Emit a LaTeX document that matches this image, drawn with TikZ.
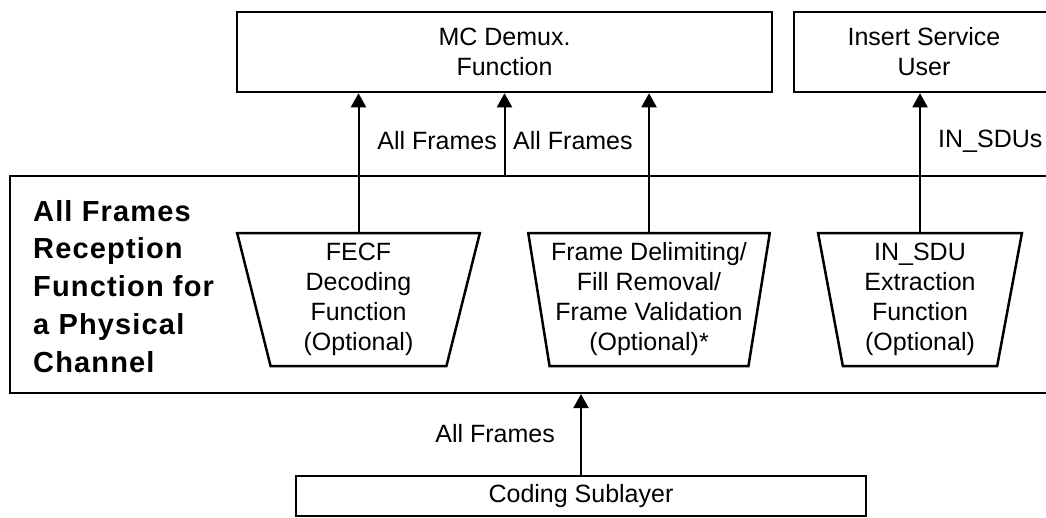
\documentclass[tikz,border=0pt]{standalone}
\usepackage{fontspec}
\setmainfont{Liberation Sans}
\usetikzlibrary{shapes.geometric,arrows.meta}
\newcommand\lblfont{\fontsize{25}{30}\selectfont}
\newcommand\hdfont{\fontsize{29}{37.7}\selectfont\bfseries\addfontfeatures{LetterSpace=4}}
\begin{document}
\begin{tikzpicture}[x=1pt,y=-1pt,
  every node/.style={font=\lblfont,inner sep=0pt},
  fbox/.style={draw,line width=2.5pt,rectangle,align=center},
  trap/.style={draw,line width=2.5pt,trapezium,trapezium stretches=true,
    shape border rotate=180,align=center,minimum height=133pt},
  arr/.style={line width=2pt,-{Triangle[length=14pt,width=15pt]}}]
  \useasboundingbox (0,0) rectangle (1046,517);
  \clip (0,0) rectangle (1046,517);
  % upper boxes
  \node[fbox,minimum width=535pt,minimum height=80pt] (mcd) at (504.5,52) {MC Demux.\\Function};
  \node[fbox,minimum width=260pt,minimum height=80pt] (isu) at (924,52) {Insert Service\\User};
  % all frames reception function
  \node[draw,line width=2pt,minimum width=1050pt,minimum height=217pt] (afr) at (535,284.5) {};
  \node[font=\hdfont,align=left,anchor=north west] (afrlbl) at (33,200) {All Frames\\Reception\\Function for\\a Physical\\Channel};
  \node[trap,trapezium angle=79.5,minimum width=243pt] (fecf) at (358.5,299.5) {FECF\\Decoding\\Function\\(Optional)};
  \node[trap,trapezium angle=79.5,minimum width=242pt] (fdl) at (649,299.5) {Frame Delimiting/\\Fill Removal/\\Frame Validation\\(Optional)*};
  \node[trap,trapezium angle=81,minimum width=204pt] (insu) at (920,299.5) {IN\_SDU\\Extraction\\Function\\(Optional)};
  % coding sublayer
  \node[fbox,minimum width=570pt,minimum height=40pt] (cs) at (581,496) {Coding Sublayer};
  % arrows
  \draw[arr] (fecf.north) -- (fecf.north |- mcd.south);
  \draw[arr] (afr.north -| mcd.south) -- (mcd.south);
  \draw[arr] (fdl.north) -- (fdl.north |- mcd.south);
  \draw[arr] (insu.north) -- (insu.north |- isu.south);
  \draw[arr] (cs.north) -- (cs.north |- afr.south);
  % labels
  \node[anchor=east] (lbla) at (497,141) {All Frames};
  \node[anchor=west] (lblb) at (513,141) {All Frames};
  \node[anchor=west] (lblc) at (938,141) {IN\_SDUs};
  \node[anchor=east] (lbld) at (555,434) {All Frames};
\end{tikzpicture}
\end{document}
